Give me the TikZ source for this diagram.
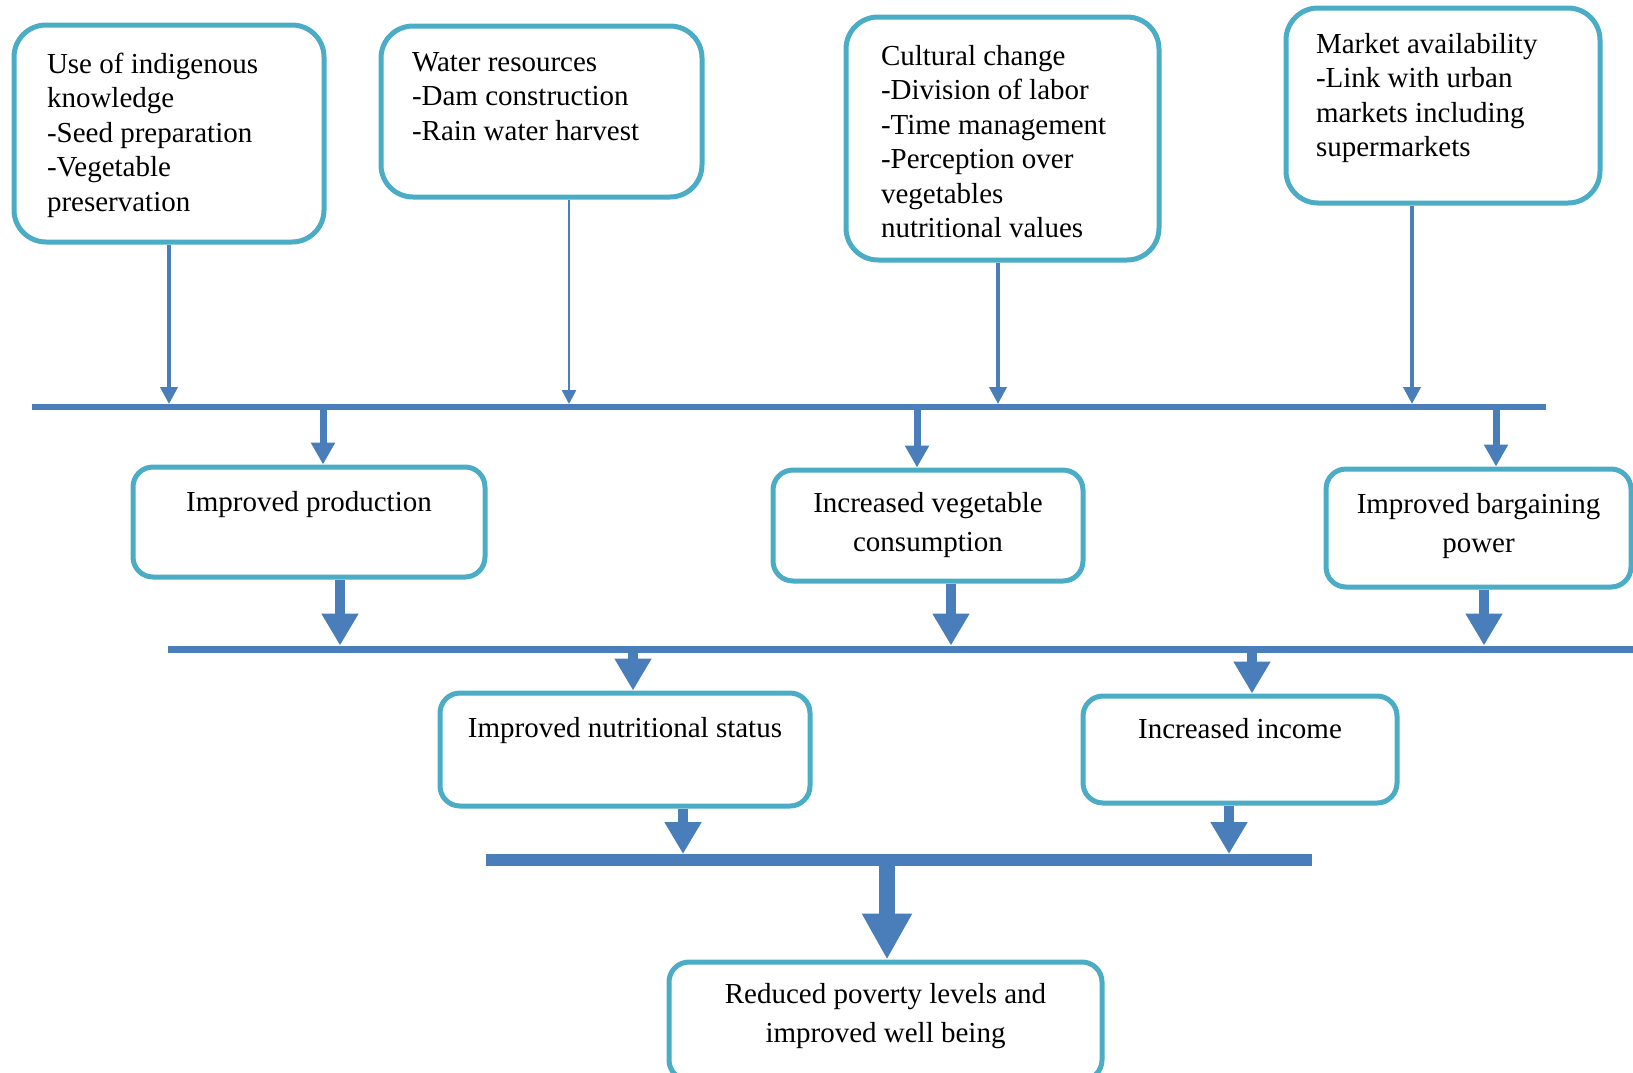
\documentclass[tikz,border=0pt]{standalone}
\usepackage{fontspec}
\setmainfont{Liberation Serif}
\usepackage{xcolor}
\usetikzlibrary{arrows.meta}

\definecolor{boxline}{RGB}{75,172,198}
\definecolor{flow}{RGB}{74,126,187}

% text inside a box: width, height, lines
\newcommand{\lefttext}[3]{\parbox[t][#2pt][t]{#1pt}{\raggedright\strut #3}}
\newcommand{\midtext}[3]{\parbox[t][#2pt][t]{#1pt}{\centering\strut #3}}

\tikzset{
  topbox/.style={draw=boxline, line width=5pt, rounded corners=32pt, fill=white,
    font=\fontsize{29}{34.5}\selectfont},
  midbox/.style={draw=boxline, line width=5pt, rounded corners=20pt, fill=white,
    inner xsep=10pt, font=\fontsize{29}{39}\selectfont},
  bar/.style={fill=flow, inner sep=0pt, outer sep=0pt},
  flowS/.style={draw=flow, line width=4pt, -{Triangle[length=17pt,width=17pt]}},
  flowM/.style={draw=flow, line width=7pt, -{Triangle[length=22pt,width=23pt]}},
  flowL/.style={draw=flow, line width=10pt, -{Triangle[length=32pt,width=35pt]}},
  flowXL/.style={draw=flow, line width=16pt, -{Triangle[length=46pt,width=47pt]}}
}

\begin{document}
\begin{tikzpicture}[x=1pt, y=-1pt]
\useasboundingbox (0,0) rectangle (1633,1072);

%---------------- Factors ----------------%
\node[topbox, inner xsep=33pt, inner ysep=24pt] (know) at (169,133.5)
  {\lefttext{244}{169}{Use of indigenous\\knowledge\\-Seed preparation\\-Vegetable\\preservation}};
\node[topbox, inner xsep=31pt, inner ysep=21pt] (water) at (541.5,111.5)
  {\lefttext{259}{129}{Water resources\\-Dam construction\\-Rain water harvest}};
\node[topbox, inner xsep=35pt, inner ysep=24pt] (culture) at (1002.5,138.5)
  {\lefttext{243}{195}{Cultural change\\-Division of labor\\-Time management\\-Perception over\\vegetables\\nutritional values}};
\node[topbox, inner xsep=30pt, inner ysep=21pt] (market) at (1443,105.5)
  {\lefttext{254}{153}{Market availability\\-Link with urban\\markets including\\supermarkets}};

%---------------- Outcomes ----------------%
\node[midbox, inner ysep=16.7pt] (prod) at (309,522)
  {\midtext{332}{76.6}{Improved production}};
\node[midbox, inner ysep=14.7pt] (consum) at (928,525.5)
  {\midtext{290}{81.6}{Increased vegetable\\consumption}};
\node[midbox, inner ysep=16.7pt] (bargain) at (1478.5,528)
  {\midtext{285}{84.6}{Improved bargaining\\power}};
\node[midbox, inner ysep=16.7pt] (nutri) at (625,749.5)
  {\midtext{350}{79.6}{Improved nutritional status}};
\node[midbox, inner ysep=14.7pt] (income) at (1240,749.5)
  {\midtext{294}{77.6}{Increased income}};
\node[midbox, inner ysep=13.7pt] (poverty) at (885.5,1021)
  {\midtext{413}{90.6}{Reduced poverty levels and\\improved well being}};

%---------------- Bars ----------------%
\node[bar, minimum width=1514pt, minimum height=6pt] (barA) at (789,407) {};
\node[bar, minimum width=1472pt, minimum height=7pt] (barB) at (904,649) {};
\node[bar, minimum width=826pt, minimum height=12pt] (barC) at (899,860) {};

%---------------- Arrows ----------------%
% factors -> bar A
\draw[flowS] (know.south) -- (know.south |- barA.north);
\draw[flowS, line width=2.5pt, -{Triangle[length=14pt,width=14pt]}]
  ([xshift=27.5pt]water.south) -- ([xshift=27.5pt]water.south |- barA.north);
\draw[flowS] ([xshift=-4.5pt]culture.south) -- ([xshift=-4.5pt]culture.south |- barA.north);
\draw[flowS] ([xshift=-31pt]market.south) -- ([xshift=-31pt]market.south |- barA.north);

% bar A -> outcomes
\draw[flowM] ([xshift=14pt]prod.north |- barA.center) -- ([xshift=14pt]prod.north);
\draw[flowM] ([xshift=-11pt]consum.north |- barA.center) -- ([xshift=-11pt]consum.north);
\draw[flowM] ([xshift=17.5pt]bargain.north |- barA.center) -- ([xshift=17.5pt]bargain.north);

% outcomes -> bar B
\draw[flowL] ([xshift=31pt]prod.south) -- ([xshift=31pt]prod.south |- barB.north);
\draw[flowL] ([xshift=23pt]consum.south) -- ([xshift=23pt]consum.south |- barB.north);
\draw[flowL] ([xshift=5.5pt]bargain.south) -- ([xshift=5.5pt]bargain.south |- barB.north);

% bar B -> nutrition, income
\draw[flowL] ([xshift=8pt]nutri.north |- barB.center) -- ([xshift=8pt]nutri.north);
\draw[flowL] ([xshift=12pt]income.north |- barB.center) -- ([xshift=12pt]income.north);

% nutrition, income -> bar C
\draw[flowL] ([xshift=58pt]nutri.south) -- ([xshift=58pt]nutri.south |- barC.north);
\draw[flowL] ([xshift=-11pt]income.south) -- ([xshift=-11pt]income.south |- barC.north);

% bar C -> poverty
\draw[flowXL] ([xshift=1.5pt]poverty.north |- barC.center) -- ([xshift=1.5pt]poverty.north);

\end{tikzpicture}
\end{document}
